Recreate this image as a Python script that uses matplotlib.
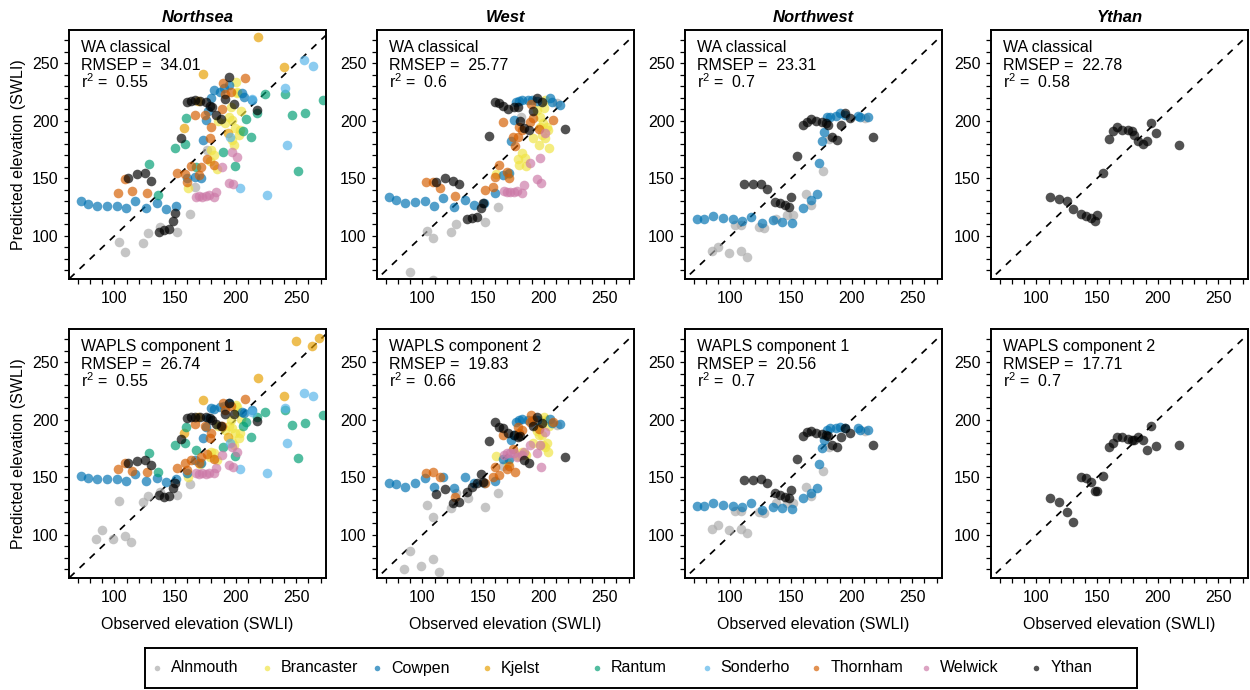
import numpy as np
import matplotlib
matplotlib.use("Agg")
import matplotlib.pyplot as plt
from matplotlib.ticker import FixedLocator, MultipleLocator

plt.rcParams['font.family'] = ['Liberation Sans', 'DejaVu Sans']
plt.rcParams['mathtext.fontset'] = 'custom'
plt.rcParams['mathtext.rm'] = 'Liberation Sans'
plt.rcParams['mathtext.it'] = 'Liberation Sans:italic'

nan = np.nan

# ---- sites and colours -------------------------------------------------
sites = ["Alnmouth", "Brancaster", "Cowpen", "Kjelst", "Rantum",
         "Sonderho", "Thornham", "Welwick", "Ythan"]
site_colors = ["#AAAAAA", "#F0E442", "#0072B2", "#E69F00", "#009E73",
               "#56B4E9", "#D55E00", "#CC79A7", "#000000"]

regions = ["Northsea", "West", "Northwest", "Ythan"]
models = [["WA classical"] * 4,
          ["WAPLS component 1", "WAPLS component 2",
           "WAPLS component 1", "WAPLS component 2"]]
rmsep = [[34.01, 25.77, 23.31, 22.78],
         [26.74, 19.83, 20.56, 17.71]]
r2 = [["0.55", "0.6", "0.7", "0.58"],
      ["0.55", "0.66", "0.7", "0.7"]]

# ---- observed elevation (SWLI) per site ---------------------------------
alnmouth_obs = [84.4, 89.5, 98.8, 108.7, 113.6, 104.0, 108.7, 123.2, 127.8,
                137.4, 146.4, 151.9, 162.0, 166.3, 176.4, 181.4, 210.6]
brancaster_obs = [160.5, 170.4, 178.6, 180.0, 182.2, 184.3, 185.5, 191.2,
                  194.5, 195.8, 197.2, 197.2, 198.6, 199.4, 199.9, 200.8,
                  201.3, 202.4, 203.2, 204.0]
cowpen_obs = [72.1, 77.8, 85.5, 94.2, 102.2, 109.8, 117.1, 125.9, 134.9,
              142.8, 151.0, 160.0, 166.6, 171.0, 173.2, 175.1, 177.0, 179.7,
              182.4, 186.8, 190.6, 194.5, 205.1, 207.0, 213.6]
kjelst_obs = [157.6, 169.0, 173.4, 193.6, 218.5, 239.5, 249.7, 263.3, 268.8]
rantum_obs = [128.3, 135.7, 150.2, 158.4, 158.9, 167.1, 189.8, 199.1, 206.2,
              208.1, 213.0, 217.7, 223.9, 240.4, 246.4, 251.3, 256.8, 272.3]
sonderho_obs = [195.0, 203.2, 213.6, 225.9, 240.4, 242.3, 256.0, 264.1]
thornham_obs = [102.9, 108.4, 114.7, 126.7, 151.6, 158.4, 159.8, 163.1,
                166.6, 169.9, 171.2, 174.5, 176.7, 178.6, 180.0, 182.2,
                189.0, 189.5, 190.9, 196.4, 207.3]
welwick_obs = [167.2, 169.9, 172.6, 175.3, 178.0, 182.2, 183.5, 189.0,
               194.5, 197.2, 197.5, 201.3]
ythan_obs = [110.9, 118.8, 125.3, 130.5, 137.1, 141.2, 145.3, 148.6, 150.0,
             154.6, 160.0, 162.8, 166.3, 170.4, 175.9, 178.6, 180.5, 183.8,
             188.2, 191.5, 194.2, 198.3, 217.4]

# ---- predicted elevation: Northsea training set --------------------------
northsea_wa_alnmouth = [nan, nan, nan, 86.3, nan, 94.4, nan, 94.1, 102.2,
                        107.4, nan, 103.7, 119.0, 142.8, 174.7, nan, nan]
northsea_wa_brancaster = [141.3, nan, 165.0, 175.0, 170.3, 157.9, 200.0,
                          197.9, 203.7, 212.4, 200.8, 183.4, 179.0, 193.5,
                          233.5, 223.9, 225.4, 187.7, 192.1, 208.9]
northsea_wa_cowpen = [130.3, 127.4, 126.3, 126.3, 126.3, 124.0, 130.3, 124.0,
                      128.3, 123.4, 126.3, 150.0, 151.5, 150.0, 183.4, 200.8,
                      208.9, 220.0, 226.8, 225.4, 228.3, 231.2, 224.0, 221.1,
                      218.2]
northsea_wa_kjelst = [193.5, 217.6, 240.8, 189.7, 272.6, 246.6, nan, nan, nan]
northsea_wa_rantum = [162.5, 135.5, 176.1, 179.6, 202.2, 160.0, 173.2, 161.1,
                      191.2, 201.3, 186.3, 206.6, 223.4, 223.4, 205.1, 156.7,
                      207.1, 218.1]
northsea_wa_sonderho = [185.7, 141.9, 219.0, 135.5, 228.3, 179.0, 252.9, 247.7]
northsea_wa_thornham = [137.0, 149.2, 139.3, 137.0, 155.0, 153.8, 147.1,
                        160.8, 205.1, 152.9, 160.2, 205.1, 166.6, 184.8,
                        195.0, 161.6, 210.0, 233.2, 223.4, 225.0, 236.9]
northsea_wa_welwick = [134.1, 134.7, 134.1, 134.7, 135.5, 134.1, 138.4,
                       160.2, 146.3, 173.2, 145.1, 168.3]
northsea_wa_ythan = [150.0, 153.8, 154.4, 148.0, 103.7, 105.1, 105.7, 113.2,
                     120.2, 184.8, 216.1, 217.6, 218.1, 217.0, 216.7, 212.9,
                     211.8, 205.1, 201.6, 218.7, 238.4, 215.0, 209.5]

northsea_wapls_alnmouth = [96.4, 104.2, 96.4, 99.0, 93.5, 129.5, nan, 128.9,
                           134.1, 137.0, nan, 134.7, 144.0, nan, nan, nan, nan]
northsea_wapls_brancaster = [150.6, 162.0, 168.0, 172.0, 171.5, 165.1, 195.0,
                             191.2, 194.7, 199.9, 192.6, 181.1, 178.2, 188.3,
                             212.9, 207.1, 210.9, 184.0, 188.9, 200.5]
northsea_wapls_cowpen = [151.2, 149.7, 148.3, 148.3, 148.3, 146.8, 152.9,
                         147.1, 149.7, 145.7, 148.6, 154.1, 165.1, 162.8,
                         184.0, 194.1, 201.3, 210.0, 209.2, 211.0, 212.1,
                         214.4, 207.1, 205.7, 208.6]
northsea_wapls_kjelst = [188.9, 202.8, 217.3, 185.0, 236.1, 220.8, 268.6,
                         264.2, 270.9]
northsea_wapls_rantum = [171.5, 155.0, 178.2, 180.2, 194.1, 173.8, 176.7,
                         168.6, 194.7, 198.4, 184.8, 202.8, 206.6, 208.6,
                         195.5, 166.6, 197.0, 204.2]
northsea_wapls_sonderho = [180.0, 157.0, 207.0, 153.5, 210.0, 180.2, 223.7,
                           220.8]
northsea_wapls_thornham = [157.0, 162.2, 155.8, 155.0, 158.4, 162.2, 156.4,
                           165.1, 196.1, 162.2, 168.0, 195.0, 170.0, 184.0,
                           189.0, 166.0, 194.7, 214.4, 208.6, 212.0, 218.0]
northsea_wapls_welwick = [153.5, 152.9, 153.5, 152.9, 153.5, 154.1, 158.0,
                          169.5, 160.8, 176.7, 159.3, 172.0]
northsea_wapls_ythan = [162.8, 164.5, 165.1, 161.0, 134.7, 133.2, 133.8,
                        140.5, 144.8, 183.1, 201.3, 202.2, 202.8, 202.8,
                        202.2, 201.3, 200.0, 196.0, 195.0, 205.0, 215.0,
                        205.0, 199.0]

# ---- predicted elevation: West training set ------------------------------
west_wa_alnmouth = [nan, 68.3, nan, 62.0, nan, 104.5, 97.9, 103.1, 110.3,
                    nan, nan, 112.4, 125.4, nan, nan, 203.7, 215.3]
west_wa_brancaster = [153.8, 153.8, 166.6, 161.6, 172.0, 168.0, 161.1, 185.0,
                      209.3, 179.0, 203.7, 195.0, 188.0, 197.9, 210.9, 184.8,
                      218.0, 195.0, 192.1, 176.1]
west_wa_cowpen = [134.1, 131.2, 128.9, 129.7, 130.3, 126.3, 132.6, 125.4,
                  131.2, 126.8, 128.9, 137.0, 152.9, 154.4, 182.8, 200.8,
                  216.7, 217.3, 218.1, 218.1, 218.1, 217.3, 219.6, 216.7,
                  214.0]
west_wa_thornham = [147.1, 147.1, 141.3, 134.7, 139.9, 142.2, 150.9, 161.6,
                    199.3, 155.8, 150.0, 186.0, 178.2, 186.3, 195.0, 192.0,
                    199.3, 214.7, 202.2, 192.6, 200.8]
west_wa_welwick = [139.3, 138.4, 138.4, 138.4, 139.3, 137.0, 144.2, 163.1,
                   149.2, 167.4, 146.3, 189.2]
west_wa_ythan = [147.1, 150.0, 147.7, 144.8, 114.7, 115.3, 116.1, 124.0,
                 128.9, 186.8, 216.7, 215.3, 212.9, 210.0, 212.0, 211.8,
                 200.0, 194.1, 192.1, 208.9, 220.2, 216.7, 192.9]

west_wapls_alnmouth = [70.0, 86.3, 72.9, 78.7, 68.0, 126.0, 115.8, 123.1,
                       136.1, 131.8, nan, 124.0, 136.7, 160.2, nan, nan, 195.5]
west_wapls_brancaster = [168.6, 162.2, 168.6, 169.5, 172.0, 170.0, 169.5,
                         180.0, 190.0, 186.8, 194.1, 178.0, 186.8, 178.2,
                         202.8, 176.7, 199.9, 179.6, 172.0, 195.0]
west_wapls_cowpen = [145.4, 144.2, 141.3, 145.4, 149.2, 141.3, 150.6, 140.5,
                     150.6, 145.4, 144.8, 147.1, 165.7, 165.7, 182.5, 186.8,
                     198.4, 199.9, 200.5, 199.9, 199.0, 199.9, 200.5, 197.6,
                     196.0]
west_wapls_thornham = [154.1, 155.0, 150.6, 133.2, 145.4, 150.6, 159.3,
                       152.1, 186.8, 157.0, 160.0, 175.0, 155.0, 194.1,
                       188.3, 191.2, 198.4, 204.2, 200.0, 192.0, 198.0]
west_wapls_welwick = [169.5, 170.9, 171.5, 170.9, 168.0, 169.5, 172.0, 178.2,
                      170.9, 178.2, 159.3, 189.7]
west_wapls_ythan = [135.5, 139.6, 128.0, 128.9, 137.0, 141.3, 145.4, 152.9,
                    146.3, 181.9, 198.4, 194.1, 192.6, 188.9, 186.8, 185.4,
                    186.0, 165.1, 162.2, 194.7, 202.8, 197.6, 168.0]

# ---- predicted elevation: Northwest training set -------------------------
northwest_wa_alnmouth = [86.8, 90.6, 85.4, 87.1, 81.9, 109.5, 109.5, 107.4,
                         106.6, 114.4, 118.1, 118.1, 136.1, 126.8, 156.4,
                         183.9, 202.2]
northwest_wa_cowpen = [114.7, 114.4, 117.3, 115.3, 114.4, 112.9, 116.7, 110.9,
                       113.8, 112.4, 111.5, 124.0, 131.2, 136.1, 163.7, 182.8,
                       190.3, 203.7, 203.7, 204.2, 206.6, 205.5, 204.5, 203.7,
                       203.0]
northwest_wa_ythan = [144.8, 144.8, 145.1, 140.8, 129.7, 128.3, 126.8, 125.4,
                      133.5, 169.5, 196.4, 199.3, 201.6, 199.9, 199.0, 197.9,
                      196.4, 186.3, 183.4, 196.4, 207.1, 202.2, 186.3]

northwest_wapls_alnmouth = [105.1, 108.6, 104.2, 105.1, 101.3, 121.0, 121.0,
                            120.2, 119.3, 127.4, 127.4, 127.4, 141.3, 133.8,
                            155.8, 176.7, 190.3]
northwest_wapls_cowpen = [125.4, 125.4, 128.0, 126.0, 125.1, 124.5, 127.4,
                          121.6, 124.5, 123.1, 122.5, 131.8, 136.1, 140.5,
                          161.6, 175.3, 182.5, 191.2, 192.6, 192.6, 193.5,
                          193.0, 192.6, 191.2, 191.0]
northwest_wapls_ythan = [148.0, 148.0, 148.6, 145.1, 136.5, 134.7, 133.2,
                         132.4, 139.0, 166.0, 186.3, 189.2, 190.0, 188.3,
                         188.0, 187.0, 186.0, 177.9, 176.5, 185.2, 193.0,
                         189.0, 178.5]

# ---- predicted elevation: Ythan training set -----------------------------
ythan_wa_ythan = [134.1, 132.1, 130.3, 123.1, 118.7, 117.6, 115.3, 113.2,
                  118.2, 155.0, 184.2, 191.5, 194.4, 192.1, 192.1, 191.2,
                  187.7, 182.5, 179.9, 182.8, 197.9, 189.2, 178.7]
ythan_wapls_ythan = [131.8, 128.9, 120.2, 110.9, 150.0, 149.2, 146.3, 138.4,
                     138.4, 151.1, 176.1, 180.2, 184.8, 184.8, 183.0, 182.4,
                     182.4, 185.3, 182.4, 173.7, 194.9, 176.9, 178.3]

observed = {
    "Alnmouth": alnmouth_obs, "Brancaster": brancaster_obs,
    "Cowpen": cowpen_obs, "Kjelst": kjelst_obs, "Rantum": rantum_obs,
    "Sonderho": sonderho_obs, "Thornham": thornham_obs,
    "Welwick": welwick_obs, "Ythan": ythan_obs,
}

predicted = {
    ("Northsea", 0): {"Alnmouth": northsea_wa_alnmouth,
                      "Brancaster": northsea_wa_brancaster,
                      "Cowpen": northsea_wa_cowpen,
                      "Kjelst": northsea_wa_kjelst,
                      "Rantum": northsea_wa_rantum,
                      "Sonderho": northsea_wa_sonderho,
                      "Thornham": northsea_wa_thornham,
                      "Welwick": northsea_wa_welwick,
                      "Ythan": northsea_wa_ythan},
    ("Northsea", 1): {"Alnmouth": northsea_wapls_alnmouth,
                      "Brancaster": northsea_wapls_brancaster,
                      "Cowpen": northsea_wapls_cowpen,
                      "Kjelst": northsea_wapls_kjelst,
                      "Rantum": northsea_wapls_rantum,
                      "Sonderho": northsea_wapls_sonderho,
                      "Thornham": northsea_wapls_thornham,
                      "Welwick": northsea_wapls_welwick,
                      "Ythan": northsea_wapls_ythan},
    ("West", 0): {"Alnmouth": west_wa_alnmouth,
                  "Brancaster": west_wa_brancaster,
                  "Cowpen": west_wa_cowpen,
                  "Thornham": west_wa_thornham,
                  "Welwick": west_wa_welwick,
                  "Ythan": west_wa_ythan},
    ("West", 1): {"Alnmouth": west_wapls_alnmouth,
                  "Brancaster": west_wapls_brancaster,
                  "Cowpen": west_wapls_cowpen,
                  "Thornham": west_wapls_thornham,
                  "Welwick": west_wapls_welwick,
                  "Ythan": west_wapls_ythan},
    ("Northwest", 0): {"Alnmouth": northwest_wa_alnmouth,
                       "Cowpen": northwest_wa_cowpen,
                       "Ythan": northwest_wa_ythan},
    ("Northwest", 1): {"Alnmouth": northwest_wapls_alnmouth,
                       "Cowpen": northwest_wapls_cowpen,
                       "Ythan": northwest_wapls_ythan},
    ("Ythan", 0): {"Ythan": ythan_wa_ythan},
    ("Ythan", 1): {"Ythan": ythan_wapls_ythan},
}

# ---- figure layout (pixel geometry of a 1250 x 690 canvas) ---------------
W, H = 1250, 690
fig = plt.figure(figsize=(W / 100, H / 100), dpi=100)

col_left = [69, 377, 685, 991]
row_top = [30, 329]
ax_w, ax_h = 257, 249
xlim = (62.5, 274.5)
ylim = (62.5, 279.0)
alpha = 0.68
fs = 11.5

for r in range(2):
    for c, region in enumerate(regions):
        ax = fig.add_axes([col_left[c] / W, 1 - (row_top[r] + ax_h) / H,
                           ax_w / W, ax_h / H])
        ax.plot([0, 300], [0, 300], color="black", lw=1.25,
                ls=(0, (4, 4)), zorder=1)
        panel = predicted[(region, r)]
        for site, col in zip(sites, site_colors):
            if site not in panel:
                continue
            ax.scatter(observed[site], panel[site], s=48, color=col,
                       alpha=alpha, linewidths=0, zorder=2)
        ax.set_xlim(*xlim)
        ax.set_ylim(*ylim)
        for axis in (ax.xaxis, ax.yaxis):
            axis.set_major_locator(FixedLocator([100, 150, 200, 250]))
            axis.set_minor_locator(MultipleLocator(10))
        ax.tick_params(which="both", direction="out", length=3.5, width=0.9,
                       labelsize=fs, colors="black")
        ax.tick_params(axis="x", pad=5)
        ax.tick_params(axis="y", pad=4)
        for sp in ax.spines.values():
            sp.set_linewidth(1.4)

        # model statistics in the upper left corner
        x0 = 12 / ax_w
        lines = [models[r][c],
                 "RMSEP =  %.2f" % rmsep[r][c],
                 r"r$^{2}$ =  " + r2[r][c]]
        for i, line in enumerate(lines):
            ax.text(x0, 1 - (21.5 + 18.3 * i) / ax_h, line,
                    transform=ax.transAxes, fontsize=fs, va="baseline",
                    ha="left")

        if r == 0:
            ax.set_title(region, fontsize=12, fontweight="bold",
                         fontstyle="italic", pad=6)
        if c == 0:
            ax.set_ylabel("Predicted elevation (SWLI)", fontsize=fs,
                          labelpad=4)
        if r == 1:
            ax.set_xlabel("Observed elevation (SWLI)", fontsize=fs,
                          labelpad=9)

# ---- legend strip --------------------------------------------------------
lg = fig.add_axes([145 / W, 1 - 688 / H, 992 / W, 40 / H])
lg.set_xlim(145, 1137)
lg.set_ylim(0, 1)
lg.set_xticks([])
lg.set_yticks([])
for sp in lg.spines.values():
    sp.set_linewidth(1.4)
for i, (site, col) in enumerate(zip(sites, site_colors)):
    xd = 157 + 109.9 * i
    lg.scatter([xd], [0.5], s=16, color=col, alpha=alpha, linewidths=0)
    lg.text(xd + 14, 0.5, site, fontsize=fs, va="center", ha="left")

fig.savefig("out.png", dpi=100)
